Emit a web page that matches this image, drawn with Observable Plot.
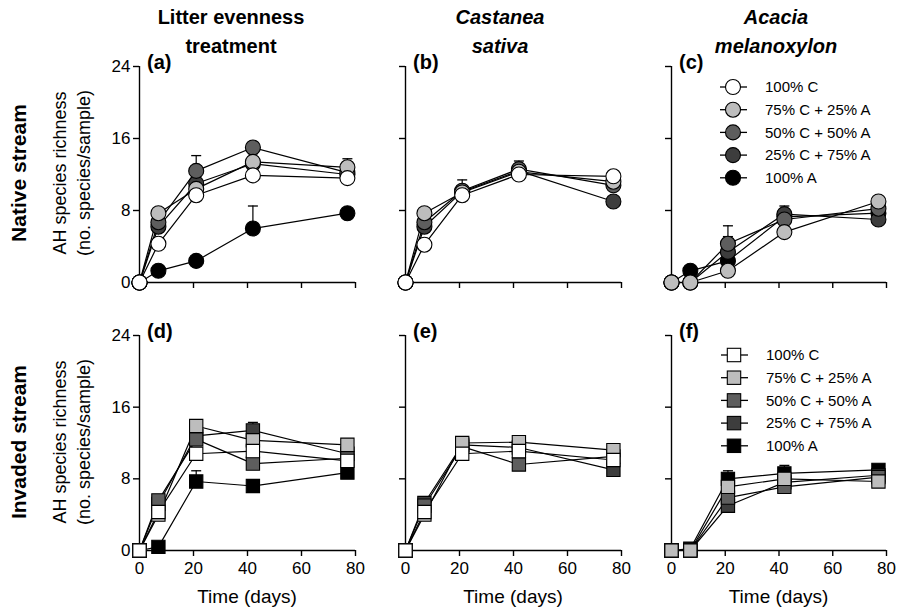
<!DOCTYPE html>
<html><head><meta charset="utf-8">
<script src="https://cdn.jsdelivr.net/npm/d3@7"></script>
<script src="https://cdn.jsdelivr.net/npm/@observablehq/plot@0.6"></script>
<style>
body{margin:0;background:#fff;}
#fig{position:relative;width:897px;height:615px;font-family:"Liberation Sans",Arial,sans-serif;color:#000;overflow:hidden;background:#fff}
.abs{position:absolute;white-space:nowrap}
.ctitle{font-weight:bold;font-size:20px;text-align:center;line-height:29px;transform:translateX(-50%)}
.letter{font-weight:bold;font-size:20px;line-height:20px}
.rot{transform:translate(-50%,-50%) rotate(-90deg);text-align:center}
</style></head><body><div id="fig"></div>
<script>
// ---------- data ----------
const days = [0, 7, 21, 42, 77];
const treatments = ["100% C", "75% C + 25% A", "50% C + 50% A", "25% C + 75% A", "100% A"];
const castaneaSeries = ["100% C", "75% C + 25% A", "50% C + 50% A", "25% C + 75% A"];
const acaciaSeries = ["75% C + 25% A", "50% C + 50% A", "25% C + 75% A", "100% A"];
const yTicks = [0, 8, 16, 24];
const xTicks = [0, 20, 40, 60, 80];

// Native stream – (a) litter evenness treatment
const nativeEvenMeans = [
  [0, 4.3, 9.7, 11.9, 11.6],
  [0, 7.7, 10.4, 13.4, 12.8],
  [0, 6.7, 12.4, 15.0, 12.2],
  [0, 6.2, 11.0, 13.2, 12.0],
  [0, 1.3, 2.4, 6.0, 7.7]
];
const nativeEvenSE = [
  [0, 0.4, 0.5, 0.5, 0.5],
  [0, 0.5, 0.7, 0.6, 0.95],
  [0, 0.5, 1.7, 0.6, 0.6],
  [0, 0.5, 0.7, 1.1, 0.6],
  [0, 0.3, 0.4, 2.5, 0.5]
];
// Native stream – (b) Castanea sativa
const nativeCastMeans = [
  [0, 4.2, 9.7, 12.0, 11.8],
  [0, 7.7, 10.0, 12.3, 11.2],
  [0, 6.7, 10.2, 12.6, 10.8],
  [0, 6.2, 10.1, 12.4, 9.0]
];
const nativeCastSE = [
  [0, 0.4, 0.5, 0.5, 0.5],
  [0, 0.5, 0.6, 0.6, 0.5],
  [0, 0.5, 1.2, 0.9, 0.6],
  [0, 0.5, 0.6, 0.6, 0.5]
];
// Native stream – (c) Acacia melanoxylon
const nativeAcacMeans = [
  [0, 0, 1.3, 5.6, 9.0],
  [0, 0, 4.3, 7.0, 8.2],
  [0, 0, 3.4, 7.6, 7.0],
  [0, 1.3, 2.4, 7.3, 7.7]
];
const nativeAcacSE = [
  [0, 0, 0.4, 0.5, 0.5],
  [0, 0, 2.0, 0.6, 0.6],
  [0, 0, 1.7, 0.9, 0.5],
  [0, 0.3, 0.5, 0.6, 0.5]
];
// Invaded stream – (d) litter evenness treatment
const invadedEvenMeans = [
  [0, 4.3, 10.8, 11.1, 10.0],
  [0, 4.0, 13.9, 12.3, 11.8],
  [0, 5.6, 12.4, 9.7, 10.3],
  [0, 5.2, 12.8, 13.4, 10.8],
  [0, 0.4, 7.7, 7.2, 8.7]
];
const invadedEvenSE = [
  [0, 0.4, 0.5, 0.5, 0.5],
  [0, 0.4, 0.6, 0.6, 0.5],
  [0, 0.5, 0.6, 0.6, 0.5],
  [0, 0.5, 0.6, 0.9, 0.5],
  [0, 0.3, 1.2, 0.5, 0.5]
];
// Invaded stream – (e) Castanea sativa
const invadedCastMeans = [
  [0, 4.3, 10.8, 11.1, 10.1],
  [0, 4.0, 12.0, 12.1, 11.2],
  [0, 5.0, 11.6, 9.6, 10.5],
  [0, 5.3, 11.8, 11.5, 9.0]
];
const invadedCastSE = [
  [0, 0.4, 0.5, 0.5, 0.5],
  [0, 0.4, 0.5, 0.5, 0.5],
  [0, 0.5, 0.5, 0.5, 0.5],
  [0, 0.5, 0.5, 0.5, 0.5]
];
// Invaded stream – (f) Acacia melanoxylon
const invadedAcacMeans = [
  [0, 0, 7.1, 8.0, 7.7],
  [0, 0, 5.9, 7.1, 8.2],
  [0, 0, 5.0, 7.6, 8.4],
  [0, 0.2, 8.0, 8.6, 9.0]
];
const invadedAcacSE = [
  [0, 0, 0.5, 0.5, 0.5],
  [0, 0, 0.5, 0.5, 0.5],
  [0, 0, 0.5, 0.5, 0.5],
  [0, 0.2, 0.9, 0.9, 0.5]
];

// ---------- styling ----------
const fillColors = ["#ffffff", "#bdbdbd", "#5e5e5e", "#3d3d3d", "#000000"];
const FONT = '"Liberation Sans", Arial, sans-serif';
const colX0 = [139, 405, 671];
const colX80 = [355, 621, 886];
const rowY24 = [66, 335];
const rowY0 = [282, 550];

const fig = document.getElementById("fig");
function addDiv(html, cls, css) {
  const d = document.createElement("div");
  d.className = "abs " + (cls || "");
  d.innerHTML = html;
  Object.assign(d.style, css);
  fig.appendChild(d);
  return d;
}

const capSymbol = {
  draw(ctx, size) {
    const w = Math.sqrt(size / Math.PI);
    ctx.moveTo(-w, 0);
    ctx.lineTo(w, 0);
  }
};

const panels = [
  {letter: "(a)", means: nativeEvenMeans, se: nativeEvenSE, series: treatments, col: 0, row: 0},
  {letter: "(b)", means: nativeCastMeans, se: nativeCastSE, series: castaneaSeries, col: 1, row: 0},
  {letter: "(c)", means: nativeAcacMeans, se: nativeAcacSE, series: acaciaSeries, col: 2, row: 0},
  {letter: "(d)", means: invadedEvenMeans, se: invadedEvenSE, series: treatments, col: 0, row: 1},
  {letter: "(e)", means: invadedCastMeans, se: invadedCastSE, series: castaneaSeries, col: 1, row: 1},
  {letter: "(f)", means: invadedAcacMeans, se: invadedAcacSE, series: acaciaSeries, col: 2, row: 1}
];

for (const p of panels) {
  const rows = [];
  p.series.forEach((t, i) => days.forEach((d, j) => rows.push({
    treatment: t, k: treatments.indexOf(t), day: d, value: p.means[i][j], se: p.se[i][j]
  })));
  const dotsOrder = rows.slice().sort((a, b) => b.k - a.k);
  const bars = rows.filter(r => r.se > 0);
  const shape = p.row === 0 ? "circle" : "square";
  const x0 = colX0[p.col], y24 = rowY24[p.row], y0 = rowY0[p.row];
  const ML = 50, MR = 20, MT = 20, MB = 35;
  const W = ML + (colX80[p.col] - x0) + MR;
  const H = MT + (y0 - y24) + MB;
  const chart = Plot.plot({
    width: W, height: H,
    marginLeft: ML, marginRight: MR, marginTop: MT, marginBottom: MB,
    x: {domain: [0, 80]},
    y: {domain: [0, 24]},
    color: {type: "ordinal", domain: treatments, range: fillColors},
    style: {background: "transparent", overflow: "visible", fontFamily: FONT, fontSize: "17px", maxWidth: "none", color: "#000"},
    marks: [
      Plot.ruleX([0], {y1: 0, y2: 24, stroke: "black", strokeWidth: 1.4}),
      Plot.ruleY([0], {x1: 0, x2: 80, stroke: "black", strokeWidth: 1.4}),
      Plot.axisX({ticks: xTicks, tickSize: 6, tickPadding: 5, strokeWidth: 1.4,
        tickFormat: p.row === 1 ? (d => String(d)) : (() => ""), label: null}),
      Plot.axisY({ticks: yTicks, tickSize: 6, tickPadding: 3, strokeWidth: 1.4,
        tickFormat: p.col === 0 ? (d => String(d)) : (() => ""), label: null}),
      Plot.line(rows, {x: "day", y: "value", z: "treatment", stroke: "black", strokeWidth: 1.2}),
      Plot.ruleX(bars, {x: "day", y1: "value", y2: d => d.value + d.se, stroke: "black", strokeWidth: 1.2}),
      Plot.dot(bars, {x: "day", y: d => d.value + d.se, symbol: capSymbol, r: 5, stroke: "black", fill: "none", strokeWidth: 1.3}),
      Plot.dot(dotsOrder, {x: "day", y: "value", fill: "treatment", stroke: "black", strokeWidth: 1.1, r: 7.5, symbol: shape})
    ]
  });
  const holder = addDiv("", "", {left: (x0 - ML) + "px", top: (y24 - MT) + "px", width: W + "px", height: H + "px"});
  holder.appendChild(chart);
  addDiv(p.letter, "letter", {left: (x0 + 8) + "px", top: (y24 - 14) + "px"});
  if (p.row === 1) {
    addDiv("Time (days)", "", {left: ((x0 + colX80[p.col]) / 2) + "px", top: "586px", fontSize: "19px", transform: "translateX(-50%)"});
  }
}

// Legends
function legend(left, top, shape) {
  const svg = d3.create("svg").attr("width", 180).attr("height", 120)
    .style("position", "absolute").style("left", left + "px").style("top", top + "px")
    .style("overflow", "visible");
  treatments.forEach((t, i) => {
    const cy = 17 + i * 22.7;
    const g = svg.append("g");
    g.append("line").attr("x1", 10).attr("x2", 37).attr("y1", cy).attr("y2", cy)
      .attr("stroke", "black").attr("stroke-width", 1.3);
    if (shape === "circle") {
      g.append("circle").attr("cx", 23).attr("cy", cy).attr("r", 7.5)
        .attr("fill", fillColors[i]).attr("stroke", "black").attr("stroke-width", 1.1);
    } else {
      g.append("rect").attr("x", 23 - 6.7).attr("y", cy - 6.7).attr("width", 13.4).attr("height", 13.4)
        .attr("fill", fillColors[i]).attr("stroke", "black").attr("stroke-width", 1.1);
    }
    g.append("text").attr("x", 55).attr("y", cy).attr("dy", "0.35em")
      .attr("font-family", FONT).attr("font-size", 15).text(t);
  });
  fig.appendChild(svg.node());
}
legend(710, 70, "circle");
legend(711, 338, "square");

// Column titles
addDiv("Litter evenness<br>treatment", "ctitle", {left: "231px", top: "3px"});
addDiv("<i>Castanea<br>sativa</i>", "ctitle", {left: "500px", top: "3px"});
addDiv("<i>Acacia<br>melanoxylon</i>", "ctitle", {left: "776px", top: "3px"});

// Row titles and y-axis titles
addDiv("Native stream", "rot", {left: "19px", top: "173px", fontWeight: "bold", fontSize: "21px"});
addDiv("Invaded stream", "rot", {left: "19px", top: "442px", fontWeight: "bold", fontSize: "21px"});
addDiv("AH species richness<br>(no. species/sample)", "rot", {left: "72px", top: "173px", fontSize: "18px", lineHeight: "24px"});
addDiv("AH species richness<br>(no. species/sample)", "rot", {left: "72px", top: "442px", fontSize: "18px", lineHeight: "24px"});
</script>
</body></html>
